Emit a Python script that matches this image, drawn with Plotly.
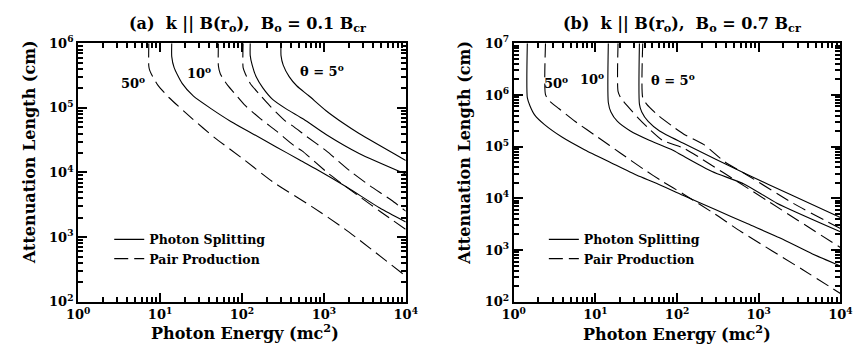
import plotly.graph_objects as go

# ---------------- data ----------------
# Panel (a): B0 = 0.1 Bcr ; energies in mc^2, attenuation lengths in cm
a_split50_E = [13.9, 13.9, 14.86, 18.62, 25.6, 42.3, 73.1, 138, 262, 494, 782, 1941, 4819, 10000]
a_split50_L = [1e6, 6.22e5, 4.19e5, 2.39e5, 1.517e5, 9.66e4, 6.17e4, 3.92e4, 2.49e4, 1.589e4, 1.156e4, 5.87e3, 2.82e3, 1.718e3]
a_pair50_E = [7.29, 7.29, 7.45, 7.83, 9.40, 12.94, 24.5, 45.9, 104.2, 236.6, 706, 1774, 10000]
a_pair50_L = [1e6, 4.44e5, 3.87e5, 3.35e5, 2.25e5, 1.435e5, 6.89e4, 3.50e4, 1.607e4, 7.19e3, 2.99e3, 1.355e3, 249]
a_split10_E = [126.2, 126.2, 133.4, 148.6, 179.9, 236.6, 346.7, 567.5, 1064, 2692, 10000]
a_split10_L = [1e6, 6.44e5, 4.59e5, 3.05e5, 2.04e5, 1.355e5, 9.66e4, 6.67e4, 3.87e4, 1.968e4, 9.44e3]
a_pair10_E = [51.6, 51.6, 54.5, 66.7, 83.8, 110.2, 166, 262, 452, 542, 1122, 1690, 2924, 4819, 10000]
a_pair10_L = [1e6, 4.44e5, 3.35e5, 2.25e5, 1.607e5, 1.081e5, 6.89e4, 4.40e4, 2.49e4, 2.16e4, 9.77e3, 6.59e3, 3.97e3, 2.52e3, 1.312e3]
a_split5_E = [300, 300, 319, 377, 469, 650, 1064, 1786, 2692, 10000]
a_split5_L = [1e6, 6.44e5, 4.59e5, 3.05e5, 2.18e5, 1.552e5, 9.04e4, 5.62e4, 4.01e4, 1.538e4]
a_pair5_E = [103.3, 103.3, 110.2, 126.2, 158, 218, 344, 412, 621, 1072, 2123, 3664, 6637, 10000]
a_pair5_L = [1e6, 4.19e5, 3.35e5, 2.39e5, 1.702e5, 1.081e5, 6.17e4, 5.31e4, 3.58e4, 2.16e4, 1.035e4, 6.22e3, 3.75e3, 2.52e3]

# Panel (b): B0 = 0.7 Bcr
b_split50_E = [1.468, 1.468, 1.580, 1.813, 2.384, 3.937, 7.457, 15.50, 32.24, 55.77, 117.9, 293.8, 733.7, 1828, 4552, 10000]
b_split50_L = [1e7, 8.85e5, 6.19e5, 4.06e5, 2.66e5, 1.514e5, 8.63e4, 4.89e4, 2.79e4, 1.959e4, 1.146e4, 6.07e3, 3.21e3, 1.706e3, 841, 493]
b_pair50_E = [2.451, 2.451, 2.735, 3.597, 5.670, 10.77, 20.39, 38.64, 66.83, 117.9, 293.8, 610.6, 3463, 10000]
b_pair50_L = [1e7, 1.016e6, 7.66e5, 5.40e5, 3.07e5, 1.514e5, 7.46e4, 3.70e4, 2.10e4, 1.230e4, 4.91e3, 2.26e3, 416, 144.5]
b_split10_E = [14.40, 14.40, 15.50, 18.63, 26.83, 46.42, 87.90, 117.9, 268.3, 668.3, 1670, 10000]
b_split10_L = [1e7, 7.16e5, 4.69e5, 3.07e5, 2.01e5, 1.315e5, 8.63e4, 6.64e4, 3.30e4, 1.879e4, 8.05e3, 2.26e3]
b_pair10_E = [18.94, 18.94, 20.39, 24.51, 33.69, 46.42, 66.83, 117.9, 186.3, 668.3, 10000]
b_pair10_L = [1e7, 1.169e6, 8.85e5, 6.19e5, 3.53e5, 2.15e5, 1.315e5, 9.51e4, 6.22e4, 1.726e4, 1117]
b_split5_E = [34.62, 34.62, 36.98, 44.31, 61.06, 117.9, 733.7, 2404, 10000]
b_split5_L = [1e7, 6.67e5, 4.69e5, 3.07e5, 2.01e5, 1.175e5, 2.87e4, 1.194e4, 4.28e3]
b_pair5_E = [38.00, 38.00, 42.41, 58.30, 87.90, 121.2, 213.7, 386.3, 700.1, 2632, 10000]
b_pair5_L = [1e7, 8.85e5, 6.67e5, 4.06e5, 2.48e5, 1.742e5, 1.094e5, 5.04e4, 2.90e4, 8.05e3, 2.60e3]

# decade tick labels (default plotly labels -> 10^n text)
decade_alias = {
    "1": "10<sup>0</sup>", "10": "10<sup>1</sup>", "100": "10<sup>2</sup>",
    "1000": "10<sup>3</sup>", "10000": "10<sup>4</sup>", "10,000": "10<sup>4</sup>",
    "100000": "10<sup>5</sup>", "100,000": "10<sup>5</sup>",
    "1000000": "10<sup>6</sup>", "1,000,000": "10<sup>6</sup>",
    "10000000": "10<sup>7</sup>", "10,000,000": "10<sup>7</sup>",
}

# ---------------- figure ----------------
W, H = 866, 362
FONT = "DejaVu Serif"
DASH = "14px,6px"

fig = go.Figure()

def add_curve(E, L, xa, ya, dashed, name, show, legend):
    fig.add_trace(go.Scatter(
        x=E, y=L, mode="lines", xaxis=xa, yaxis=ya,
        line=dict(color="black", width=1.1, dash=DASH if dashed else "solid",
                  shape="spline", smoothing=0.6),
        name=name, showlegend=show, legend=legend, hoverinfo="skip"))

SPLIT = "<b>Photon Splitting</b>"
PAIR = "<b>Pair Production</b>"

add_curve(a_split5_E, a_split5_L, "x", "y", False, SPLIT, True, "legend")
add_curve(a_pair5_E, a_pair5_L, "x", "y", True, PAIR, True, "legend")
add_curve(a_split10_E, a_split10_L, "x", "y", False, SPLIT, False, "legend")
add_curve(a_pair10_E, a_pair10_L, "x", "y", True, PAIR, False, "legend")
add_curve(a_split50_E, a_split50_L, "x", "y", False, SPLIT, False, "legend")
add_curve(a_pair50_E, a_pair50_L, "x", "y", True, PAIR, False, "legend")

add_curve(b_split5_E, b_split5_L, "x2", "y2", False, SPLIT, True, "legend2")
add_curve(b_pair5_E, b_pair5_L, "x2", "y2", True, PAIR, True, "legend2")
add_curve(b_split10_E, b_split10_L, "x2", "y2", False, SPLIT, False, "legend2")
add_curve(b_pair10_E, b_pair10_L, "x2", "y2", True, PAIR, False, "legend2")
add_curve(b_split50_E, b_split50_L, "x2", "y2", False, SPLIT, False, "legend2")
add_curve(b_pair50_E, b_pair50_L, "x2", "y2", True, PAIR, False, "legend2")

def px_x(p):
    return p / W

def px_y(p):
    return 1 - p / H

tickfont = dict(family=FONT, size=13, color="black", weight="bold")
minor = dict(ticks="inside", ticklen=5, tickwidth=1.5, tickcolor="black",
             dtick="D1", showgrid=False)

def axis(dom, anchor, rng):
    return dict(type="log", range=rng, domain=dom, anchor=anchor,
                showline=True, linewidth=2, linecolor="black", mirror="allticks",
                ticks="inside", ticklen=9, tickwidth=2, tickcolor="black",
                tickmode="linear", tick0=0, dtick=1, exponentformat="none",
                labelalias=decade_alias,
                tickfont=tickfont, showgrid=False, zeroline=False, minor=minor)

ydom = [px_y(307), px_y(35)]
legfont = dict(family=FONT, size=12.5, color="black")
fig.update_layout(
    width=W, height=H, margin=dict(l=0, r=0, t=0, b=0),
    paper_bgcolor="white", plot_bgcolor="white",
    font=dict(family=FONT, color="black"),
    xaxis=axis([px_x(68), px_x(405)], "y", [0, 4]),
    yaxis=axis(ydom, "x", [2, 6]),
    xaxis2=axis([px_x(516), px_x(852)], "y2", [0, 4]),
    yaxis2=axis(ydom, "x2", [2, 7]),
    legend=dict(x=px_x(100), y=px_y(226), xanchor="left", yanchor="top",
                bgcolor="rgba(0,0,0,0)", font=legfont, tracegroupgap=0),
    legend2=dict(x=px_x(547), y=px_y(226), xanchor="left", yanchor="top",
                 bgcolor="rgba(0,0,0,0)", font=legfont, tracegroupgap=0),
)

ann = []
def label(text, xr, yr, x, y, size, xanchor="center", yanchor="middle", angle=0):
    ann.append(dict(text=text, xref=xr, yref=yr, x=x, y=y, showarrow=False,
                    xanchor=xanchor, yanchor=yanchor, textangle=angle,
                    font=dict(family=FONT, size=size, color="black")))

# panel titles
label("<b>(a)\u00a0 k || B(r<sub>o</sub>),\u00a0 B<sub>o</sub> = 0.1 B<sub>cr</sub></b>",
      "paper", "paper", px_x(243), px_y(15), 16)
label("<b>(b)\u00a0 k || B(r<sub>o</sub>),\u00a0 B<sub>o</sub> = 0.7 B<sub>cr</sub></b>",
      "paper", "paper", px_x(690), px_y(15), 16)
# axis titles
label("<b>Photon Energy (mc<sup>2</sup>)</b>", "paper", "paper", px_x(240), px_y(339), 16)
label("<b>Photon Energy (mc<sup>2</sup>)</b>", "paper", "paper", px_x(684), px_y(340), 16)
label("<b>Attenuation Length (cm)</b>", "paper", "paper", px_x(18), px_y(150), 16, angle=-90)
label("<b>Attenuation Length (cm)</b>", "paper", "paper", px_x(465), px_y(150), 16, angle=-90)
# curve labels (data coordinates: log10 values on log axes)
label("<b>50<sup>o</sup></b>", "x", "y", 0.665, 5.40, 13)
label("<b>10<sup>o</sup></b>", "x", "y", 1.47, 5.54, 13)
label("<b>θ = 5<sup>o</sup></b>", "x", "y", 2.98, 5.58, 13)
label("<b>50<sup>o</sup></b>", "x2", "y2", 0.52, 6.25, 13)
label("<b>10<sup>o</sup></b>", "x2", "y2", 0.96, 6.32, 13)
label("<b>θ = 5<sup>o</sup></b>", "x2", "y2", 1.95, 6.29, 13)
fig.update_layout(annotations=ann)

fig.write_html("out.html")
